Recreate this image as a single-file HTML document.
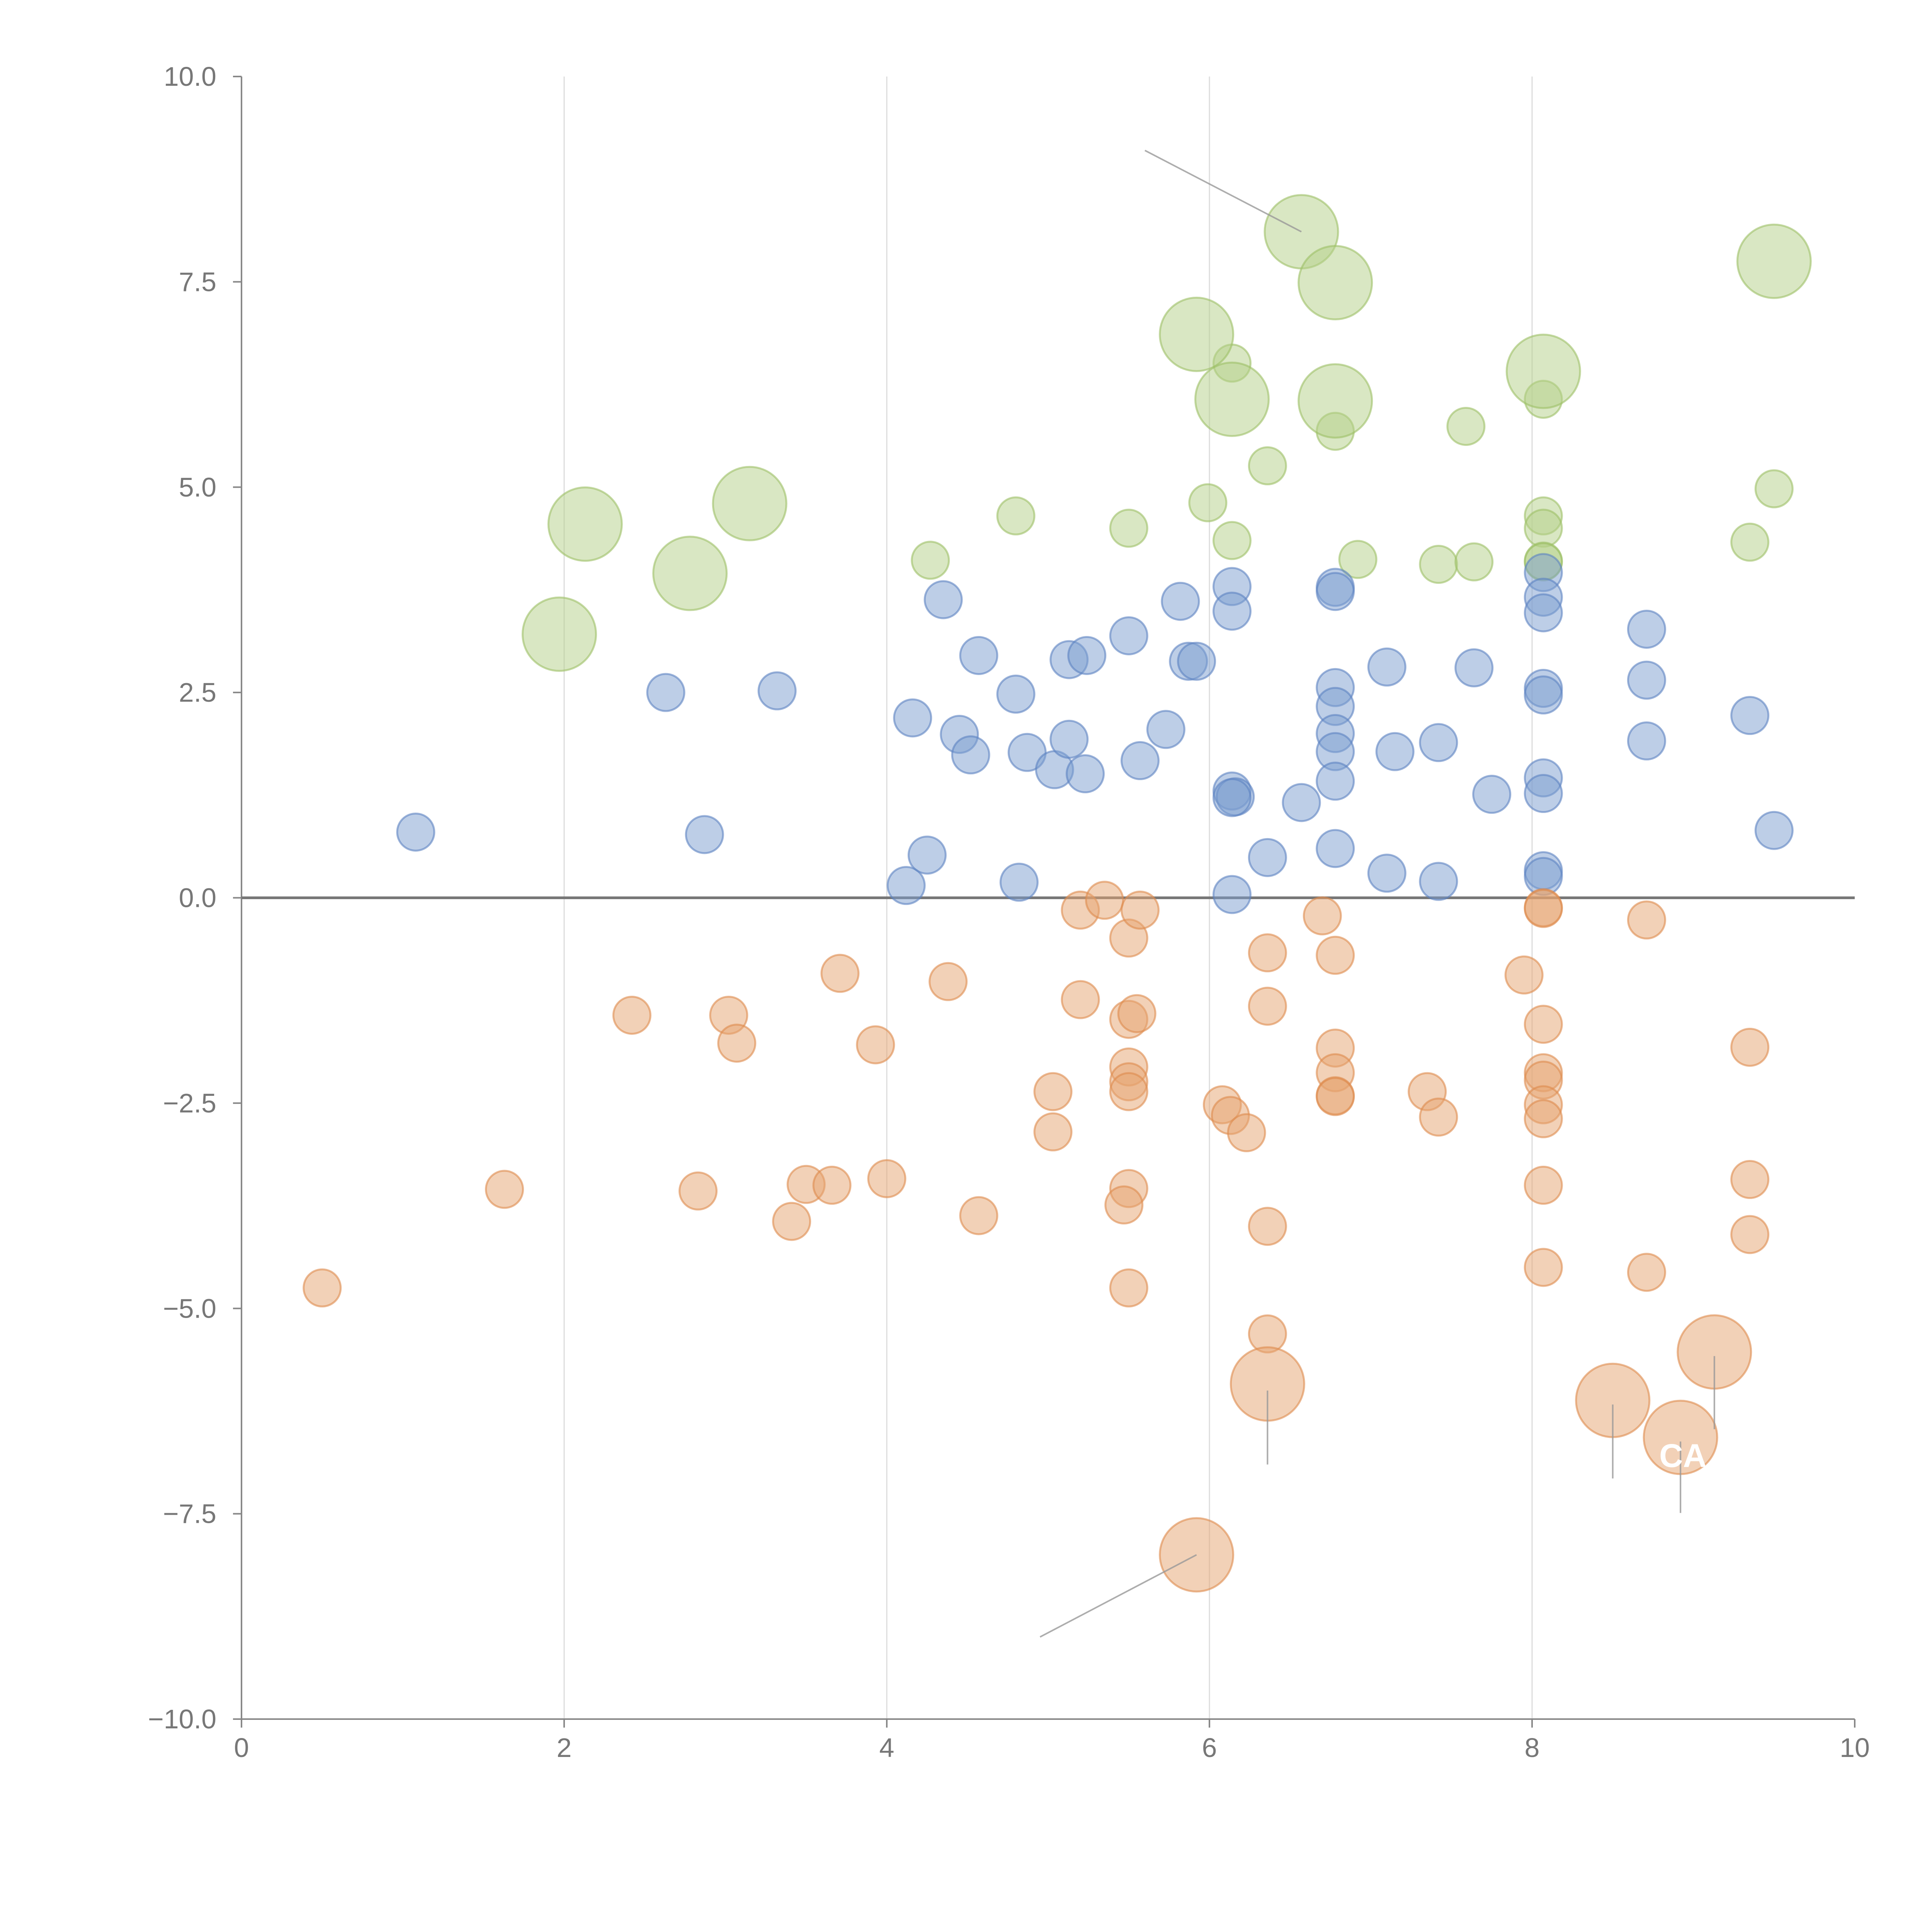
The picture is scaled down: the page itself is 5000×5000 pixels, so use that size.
<!DOCTYPE html>
<html><head><meta charset="utf-8">
<style>
html,body{margin:0;padding:0;background:#fff;}
svg{display:block;font-family:"Liberation Sans",sans-serif;}
</style></head>
<body>
<svg id="chart" width="5000" height="5000" viewBox="0 0 5000 5000" xmlns="http://www.w3.org/2000/svg">
<g id="grid"></g>
<g id="axes"></g>
<g id="marks"></g>
<g id="annot"></g>
</svg>
<script>
const xTicks=[0,2,4,6,8,10];
const yTicks=[10,7.5,5,2.5,0,-2.5,-5,-7.5,-10];
const blueX=[1.08,2.63,2.87,3.32,4.12,4.25,4.16,4.35,4.45,4.52,4.57,4.8,4.82,4.87,5.04,5.13,5.13,5.24,5.23,5.5,5.57,5.73,5.82,5.87,5.92,6.14,6.14,6.14,6.16,6.14,6.14,6.36,6.57,6.78,6.78,6.78,6.78,6.78,6.78,6.78,6.78,7.1,7.1,7.15,7.42,7.42,7.64,7.75,8.07,8.07,8.07,8.07,8.07,8.07,8.07,8.07,8.07,8.71,8.71,8.71,9.35,9.5];
const blueY=[0.8,2.5,0.77,2.52,0.15,0.52,2.19,3.63,1.99,1.74,2.95,2.48,0.19,1.77,1.56,1.93,2.9,2.95,1.51,3.19,1.67,2.05,3.61,2.88,2.88,3.79,3.49,1.3,1.23,1.22,0.04,0.49,1.16,3.78,3.73,2.56,2.33,2.0,1.78,1.42,0.6,2.81,0.3,1.78,1.89,0.2,2.8,1.26,3.96,3.66,3.47,2.55,2.47,1.46,1.27,0.33,0.26,3.27,2.65,1.91,2.22,0.82];
const orangeX=[0.5,1.63,2.42,3.02,3.07,2.83,3.41,3.5,3.66,3.71,3.93,4.0,4.38,4.57,5.03,5.03,5.2,5.2,5.35,5.5,5.57,5.5,5.55,5.5,5.5,5.5,5.5,5.47,5.5,6.08,6.13,6.23,6.36,6.36,6.36,6.36,6.7,6.78,6.78,6.78,6.78,6.78,7.35,7.42,7.95,8.07,8.07,8.07,8.07,8.07,8.07,8.07,8.07,8.07,8.71,8.71,9.35,9.35,9.35];
const orangeY=[-4.75,-3.55,-1.43,-1.43,-1.77,-3.57,-3.94,-3.49,-3.5,-0.92,-1.79,-3.42,-1.02,-3.87,-2.36,-2.85,-0.15,-1.24,-0.03,-0.49,-0.15,-1.48,-1.41,-2.06,-2.24,-2.36,-3.54,-3.74,-4.75,-2.52,-2.65,-2.86,-0.67,-1.32,-4.0,-5.31,-0.22,-0.7,-1.83,-2.13,-2.41,-2.42,-2.36,-2.67,-0.94,-0.12,-0.13,-1.54,-2.13,-2.22,-2.52,-2.69,-3.5,-4.5,-0.27,-4.56,-1.82,-3.43,-4.1];
const orangeBigX=[5.92,6.36,8.5,8.92,9.13];
const orangeBigY=[-8.0,-5.92,-6.12,-6.57,-5.53];
const greenX=[4.27,4.8,5.5,5.99,6.14,6.14,6.36,6.78,6.92,7.42,7.64,7.59,8.07,8.07,8.07,8.07,8.07,9.35,9.5];
const greenY=[4.11,4.65,4.5,4.81,6.51,4.35,5.26,5.68,4.12,4.06,4.09,5.74,4.65,4.5,4.1,4.09,6.07,4.33,4.98];
const greenBigX=[1.97,2.13,2.78,3.15,5.92,6.14,6.57,6.78,6.78,8.07,9.5];
const greenBigY=[3.21,4.55,3.95,4.8,6.86,6.07,8.11,7.49,6.05,6.41,7.75];
const leaderX1=[5.6,4.95,6.36,8.5,8.92,9.13];
const leaderY1=[9.1,-9.0,-6.0,-6.17,-6.62,-5.58];
const leaderX2=[6.57,5.92,6.36,8.5,8.92,9.13];
const leaderY2=[8.11,-8.0,-6.9,-7.07,-7.49,-6.47];

const NS="http://www.w3.org/2000/svg";
const X0=625,X1=4800,Y0=4449,Y1=198;
const sx=v=>X0+(v-0)/(10-0)*(X1-X0);
const sy=v=>Y0-(v+10)/20*(Y0-Y1);
function mk(tag,parent,attrs){const e=document.createElementNS(NS,tag);for(const k in attrs)e.setAttribute(k,attrs[k]);parent.appendChild(e);return e;}
const grid=document.getElementById('grid'),axes=document.getElementById('axes'),marks=document.getElementById('marks'),annot=document.getElementById('annot');

xTicks.forEach(t=>{
  if(t>0&&t<10){const g=mk('line',grid,{x1:sx(t),x2:sx(t),y1:Y1,y2:Y0,stroke:'#dcdcdc','stroke-width':3});
  
  }
  const tk=mk('line',axes,{x1:sx(t),x2:sx(t),y1:Y0,y2:Y0+22,stroke:'#888','stroke-width':4});
  
  
  const tx=mk('text',axes,{x:sx(t),y:Y0+98,'text-anchor':'middle','font-size':70,fill:'#777'});
  tx.textContent=String(t);
  
  
});
yTicks.forEach(t=>{
  const tk=mk('line',axes,{x1:X0-22,x2:X0,y1:sy(t),y2:sy(t),stroke:'#888','stroke-width':4});
  
  
  const tx=mk('text',axes,{x:X0-65,y:sy(t)+24,'text-anchor':'end','font-size':70,fill:'#777'});
  tx.textContent=(t<0?'\u2212':'')+Math.abs(t).toFixed(1);
  
  
});
const ya=mk('line',axes,{x1:X0,x2:X0,y1:Y1,y2:Y0,stroke:'#888','stroke-width':4});


const xa=mk('line',axes,{x1:X0,x2:X1,y1:Y0,y2:Y0,stroke:'#888','stroke-width':4});


const zl=mk('line',axes,{x1:X0,x2:X1,y1:sy(0),y2:sy(0),stroke:'#777','stroke-width':7});



function series(xs,ys,r,fill,stroke,name){
  xs.forEach((x,i)=>{
    const c=mk('circle',marks,{cx:sx(x),cy:sy(ys[i]),r:r,fill:fill,'fill-opacity':0.5,stroke:stroke,'stroke-opacity':0.6,'stroke-width':5});
    
    
  });
}
series(greenX,greenY,48,'#b3cf87','#9cbf66','bubble-green');
series(greenBigX,greenBigY,95,'#b3cf87','#9cbf66','bubble-green-large');
series(blueX,blueY,48,'#7b9dcf','#5b82c2','bubble-blue');
series(orangeX,orangeY,48,'#e6a36f','#dd8a4d','bubble-orange');
series(orangeBigX,orangeBigY,95,'#e6a36f','#dd8a4d','bubble-orange-large');

leaderX1.forEach((x,i)=>{
  const l=mk('line',annot,{x1:sx(x),y1:sy(leaderY1[i]),x2:sx(leaderX2[i]),y2:sy(leaderY2[i]),stroke:'#999','stroke-width':4,'stroke-opacity':0.8});
  
  
});
const ca=mk('text',annot,{x:sx(8.92)-55,y:sy(-6.6)+70,'font-size':85,fill:'#fff','font-weight':'bold'});
ca.textContent='CA';


</script>
</body></html>
